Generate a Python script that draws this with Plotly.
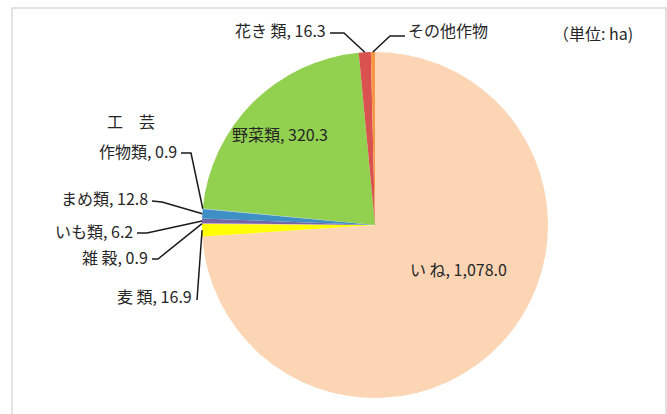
import math
import plotly.graph_objects as go

# Cultivated area by crop (ha)
crops = ["いね", "麦類", "雑穀", "いも類", "まめ類", "工芸作物類", "野菜類", "花き類", "その他作物"]
areas = [1078.0, 16.9, 0.9, 6.2, 12.8, 0.9, 320.3, 16.3, 5.6]
colors = ["#FCD5B5", "#FFFF00", "#E6B9B8", "#7464A8", "#3E8FC4", "#8EB4E3",
          "#92D050", "#D9524F", "#F79646"]

W, H = 667, 414
CX, CY, R = 375, 225, 173          # pie centre and radius in pixels
FONT = "Noto Sans CJK JP"
TXT = "#262626"
SIZE = 16


def px(x):
    return x / W


def py(y):
    return 1 - y / H


def edge_point(i, r=R):
    """Pixel point on the rim at the middle of slice i (clockwise from 12 o'clock)."""
    total = sum(areas)
    start = sum(areas[:i]) / total * 360
    mid = math.radians(start + areas[i] / total * 360 / 2)
    return CX + r * math.sin(mid), CY - r * math.cos(mid)


fig = go.Figure(go.Pie(
    labels=crops,
    values=areas,
    sort=False,
    direction="clockwise",
    rotation=0,
    marker=dict(colors=colors, line=dict(width=0)),
    textinfo="none",
    hoverinfo="label+value",
    domain=dict(x=[px(CX - R), px(CX + R)], y=[py(CY + R), py(CY - R)]),
    showlegend=False,
))

annotations = []
shapes = []


def label(text, x, y, anchor="right", size=SIZE):
    annotations.append(dict(text=text, x=px(x), y=py(y), xref="paper", yref="paper",
                            xanchor=anchor, yanchor="middle", showarrow=False,
                            font=dict(family=FONT, size=size, color=TXT)))


def leader(i, pts):
    tx, ty = edge_point(i)
    path_pts = pts + [(tx, ty)]
    d = "M " + " L ".join(f"{px(a):.5f},{py(b):.5f}" for a, b in path_pts)
    shapes.append(dict(type="path", path=d, xref="paper", yref="paper",
                       line=dict(color="#1a1a1a", width=1.5)))


def fmt(v):
    return f"{v:,.1f}"


idx = {c: k for k, c in enumerate(crops)}

# labels outside the pie, with elbow leader lines
label(f"花き 類, {fmt(areas[idx['花き類']])}", 328, 30)
leader(idx["花き類"], [(330, 33), (344, 33)])

label("その他作物", 406, 30, anchor="left")
leader(idx["その他作物"], [(405, 36), (390, 36)])

label("工　芸", 131, 121, anchor="center")
label(f"作物類, {fmt(areas[idx['工芸作物類']])}", 179, 151)
leader(idx["工芸作物類"], [(181, 153), (191, 153)])

label(f"まめ類, {fmt(areas[idx['まめ類']])}", 150, 198)
leader(idx["まめ類"], [(152, 201), (162, 202)])

label(f"いも類, {fmt(areas[idx['いも類']])}", 135, 231)
leader(idx["いも類"], [(137, 233), (147, 233)])

label(f"雑 穀, {fmt(areas[idx['雑穀']])}", 150, 257)
leader(idx["雑穀"], [(152, 259), (158, 259)])

label(f"麦 類, {fmt(areas[idx['麦類']])}", 194, 296)
leader(idx["麦類"], [(197, 300)])

# labels inside the two large slices
label(f"野菜類, {fmt(areas[idx['野菜類']])}", 280, 134, anchor="center")
label(f"い ね, {fmt(areas[idx['いね']])}", 459, 269, anchor="center")

# unit note
label("（単位: ha)", 551, 33, anchor="left")

# chart frame
shapes.append(dict(type="rect", xref="paper", yref="paper",
                   x0=px(12), x1=px(666), y0=py(430), y1=py(8),
                   line=dict(color="#D9D9D9", width=1.5), fillcolor="rgba(0,0,0,0)",
                   layer="below"))

fig.update_layout(
    width=W, height=H,
    margin=dict(l=0, r=0, t=0, b=0),
    paper_bgcolor="white",
    plot_bgcolor="white",
    annotations=annotations,
    shapes=shapes,
)

fig.write_html("out.html")
